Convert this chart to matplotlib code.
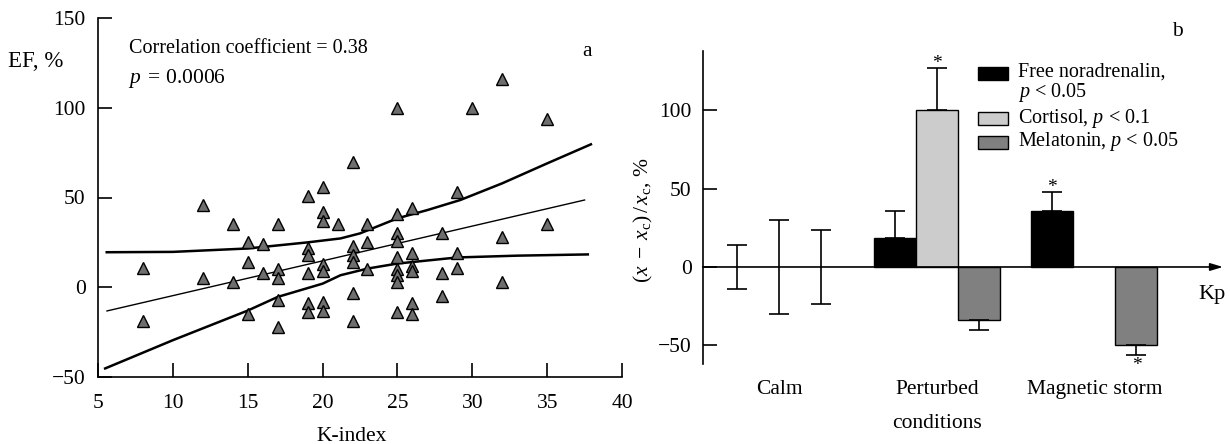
import numpy as np
import matplotlib
matplotlib.use("Agg")
import matplotlib.pyplot as plt
import matplotlib.transforms as mtransforms
from matplotlib.patches import Rectangle

plt.rcParams['font.family'] = ['Liberation Serif', 'DejaVu Serif']
plt.rcParams['mathtext.fontset'] = 'custom'
plt.rcParams['mathtext.rm'] = 'Liberation Serif'
plt.rcParams['mathtext.it'] = 'Liberation Serif:italic'
plt.rcParams['mathtext.bf'] = 'Liberation Serif:bold'
plt.rcParams['axes.unicode_minus'] = True

# ---------------- Panel a data ----------------
k_index = [8, 8, 12, 12, 14, 14, 15, 15, 15, 16, 16,
           17, 17, 17, 17, 17,
           19, 19, 19, 19, 19, 19,
           20, 20, 20, 20, 20, 20, 20,
           21,
           22, 22, 22, 22, 22, 22,
           23, 23, 23,
           25, 25, 25, 25, 25, 25, 25, 25, 25,
           26, 26, 26, 26, 26, 26,
           28, 28, 28,
           29, 29, 29,
           30,
           32, 32, 32,
           35, 35]
ef = [11, -19, 46, 5, 35, 3, 25, 14, -15, 24, 8,
      35, 10, 5, -7, -22,
      51, 22, 18, 8, -9, -14,
      56, 42, 37, 13, 9, -8, -13,
      35,
      70, 23, 18, 14, -3, -19,
      35, 25, 10,
      100, 41, 30, 26, 17, 10, 7, 3, -14,
      44, 19, 12, 9, -9, -15,
      30, 8, -5,
      53, 19, 11,
      100,
      116, 28, 3,
      94, 35]

fit_x = [5.6, 37.5]
fit_y = [-13.2, 48.6]

upper_x = [5.5, 10, 15, 19, 20, 21.2, 22.5, 25, 27, 29.2, 32, 35, 38]
upper_y = [19.5, 19.7, 21.6, 25, 26, 27.2, 30, 38.4, 43, 48.6, 57.9, 69, 79.9]

lower_x = [5.4, 10, 15, 17, 20, 21.2, 23, 25, 29, 33, 37.8]
lower_y = [-45.5, -29.5, -13, -5.4, 2, 6.7, 10.4, 13.2, 16.6, 17.6, 18.3]

xticks_a = [5, 10, 15, 20, 25, 30, 35, 40]
yticks_a = [-50, 0, 50, 100, 150]

# ---------------- Panel b data ----------------
groups = ["Calm", "Perturbed\nconditions", "Magnetic storm"]
group_pos = [0.0, 3.75, 7.5]
series = ["Free noradrenalin,\n$p$ < 0.05", "Cortisol, $p$ < 0.1", "Melatonin, $p$ < 0.05"]
colors = ["#000000", "#cccccc", "#808080"]
noradrenalin = [0, 18.7, 36]
cortisol = [0, 100, np.nan]
melatonin = [0, -34, -50]
noradrenalin_err = [14, 17.3, 12]
cortisol_err = [30, 27, np.nan]
melatonin_err = [23.5, 6, 6]
noradrenalin_sig = [False, False, True]
cortisol_sig = [False, True, False]
melatonin_sig = [False, False, True]
yticks_b = [-50, 0, 50, 100]

W, H = 1230, 444
FS = 15.5
fig = plt.figure(figsize=(W / 100, H / 100), dpi=100)

# ================= Panel a =================
axa = fig.add_axes([98 / W, 1 - 377 / H, (622 - 98) / W, (377 - 18) / H])
axa.set_xlim(5, 40)
axa.set_ylim(-50, 150)
for s in ['top', 'right']:
    axa.spines[s].set_visible(False)
for s in ['left', 'bottom']:
    axa.spines[s].set_linewidth(1.2)
axa.set_xticks(xticks_a)
axa.set_yticks(yticks_a)
axa.tick_params(direction='in', length=10, width=1.2, labelsize=FS)
axa.tick_params(axis='x', pad=12)
axa.tick_params(axis='y', pad=9)

axa.plot(upper_x, upper_y, color='k', lw=1.8, solid_capstyle='butt')
axa.plot(lower_x, lower_y, color='k', lw=1.8, solid_capstyle='butt')
axa.plot(fit_x, fit_y, color='k', lw=1.0)
axa.plot(k_index, ef, linestyle='none', marker='^', ms=9, mfc='#6e6e6e',
         mec='k', mew=1.0, clip_on=False, zorder=3)

axa.text(0.0597, 0.902, "Correlation coefficient = 0.38", transform=axa.transAxes,
         fontsize=14.5, va='baseline', ha='left')
axa.text(0.0578, 0.819, r"$p\,$ = 0.0006", transform=axa.transAxes,
         fontsize=15.5, va='baseline', ha='left')
axa.text(0.933, 0.906, "a", transform=axa.transAxes, fontsize=FS, va='center', ha='center')
axa.set_xlabel("K-index", fontsize=FS)
axa.xaxis.set_label_coords((351.7 - 98) / 524, -0.138)
fig.text(8 / W, 1 - 61.7 / H, "EF, %", fontsize=16.5, va='center', ha='left')

# ================= Panel b =================
x0, x1 = -1.82, 10.56
axb = fig.add_axes([702.7 / W, 1 - 363.7 / H, (1223 - 702.7) / W, (363.7 - 50.7) / H])
axb.set_xlim(x0, x1)
axb.set_ylim(-61.8, 138.2)
for s in ['top', 'right', 'bottom']:
    axb.spines[s].set_visible(False)
axb.spines['left'].set_linewidth(1.2)
axb.set_yticks(yticks_b)
axb.tick_params(axis='y', direction='in', length=10, width=1.2, labelsize=FS, pad=8)
axb.set_xticks(group_pos)
axb.set_xticklabels(groups)
axb.tick_params(axis='x', length=0, labelsize=FS, pad=12)
for lbl in axb.get_xticklabels():
    lbl.set_linespacing(2.05)

vals = [noradrenalin, cortisol, melatonin]
errs = [noradrenalin_err, cortisol_err, melatonin_err]
sigs = [noradrenalin_sig, cortisol_sig, melatonin_sig]
offsets = [-1, 0, 1]
for v, e, sg, c, off, lab in zip(vals, errs, sigs, colors, offsets, series):
    v = np.array(v, dtype=float)
    e = np.array(e, dtype=float)
    pos = np.array(group_pos) + off
    ok = ~np.isnan(v)
    nz = ok & (np.nan_to_num(v) != 0)
    axb.bar(pos[nz], v[nz], width=1.0, color=c, edgecolor='k', linewidth=1.0,
            label=lab, zorder=2)
    lower = np.where(v[ok] <= 0, e[ok], 0)
    upper = np.where(v[ok] >= 0, e[ok], 0)
    axb.errorbar(pos[ok], v[ok], yerr=[lower, upper], fmt='none', ecolor='k',
                 elinewidth=1.2, capsize=7, capthick=1.2, zorder=3)
    for p_, vv, ee, ss in zip(pos, v, e, sg):
        if ss:
            if vv >= 0:
                axb.annotate("*", (p_, vv + ee), xytext=(0, -3), textcoords='offset points',
                             ha='center', va='bottom', fontsize=14)
            else:
                axb.annotate("*", (p_, vv - ee), xytext=(0, -2), textcoords='offset points',
                             ha='center', va='top', fontsize=14)

# x axis with arrow at y = 0
trans = mtransforms.blended_transform_factory(axb.transAxes, axb.transData)
axb.annotate('', xy=(1.0, 0), xycoords=trans, xytext=(0.0, 0), textcoords=trans,
             arrowprops=dict(arrowstyle='-|>,head_length=0.5,head_width=0.15',
                             mutation_scale=15, color='k', lw=1.2,
                             shrinkA=0, shrinkB=0),
             annotation_clip=False, zorder=4)
fig.text(1211.7 / W, 1 - 298.5 / H, "Kp", fontsize=FS + 0.5, ha='center', va='baseline')
fig.text(1177 / W, 1 - 31.7 / H, "b", fontsize=FS, ha='center', va='center')
fig.text(643 / W, 1 - 220 / H, r"$(x\;-\;x_{\rm c})\,/\,x_{\rm c}$, %", fontsize=FS,
         rotation=90, ha='center', va='center')

# legend (key boxes beside their labels)
leg_patch_y = [73.3, 119.0, 142.7]   # pixel centres of key boxes
leg_text_y = [96.7, 123.3, 145.7]    # pixel baselines of last label lines
for c, lab, py, ty in zip(colors, series, leg_patch_y, leg_text_y):
    fig.add_artist(Rectangle((978 / W, 1 - (py + 6.5) / H), 30 / W, 13 / H,
                             transform=fig.transFigure, facecolor=c,
                             edgecolor='k', linewidth=1.0))
    fig.text(1017.7 / W, 1 - ty / H, lab, fontsize=14.5, ha='left', va='baseline',
             linespacing=0.92)

fig.savefig("out.png", dpi=100)
